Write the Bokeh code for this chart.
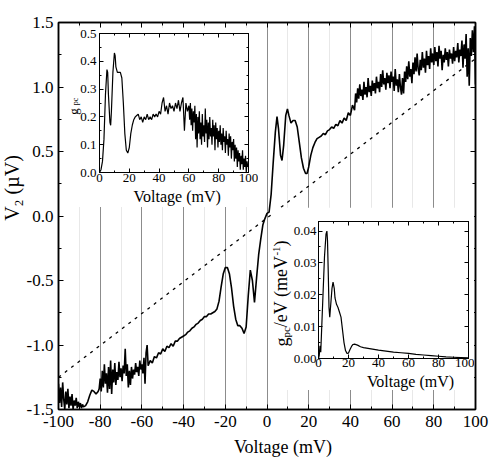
import math

from bokeh.plotting import figure
from bokeh.models import (Range1d, LinearAxis, SingleIntervalTicker,
                          NumeralTickFormatter, Label, Column)
from bokeh.embed import file_html
from bokeh.resources import INLINE

FONT = "Liberation Serif"

# ---------------------------------------------------------------- main sweep
sweep_mv = [
    -100, -99.5, -99, -98.5, -98, -97.5, -97, -96.5, -96, -95.5,
    -95, -94.5, -94, -93.5, -93, -92.5, -92, -91.5, -91, -90.5,
    -90, -89.5, -89, -88.5, -88,
    -87, -86, -85, -84, -83, -82, -81, -80.5,
    -80, -79.5, -79, -78.5, -78, -77.5, -77, -76.5, -76, -75.5,
    -75, -74.5, -74, -73.5, -73, -72.5, -72, -71.5, -71, -70.5,
    -70, -69.5, -69, -68.5, -68, -67.5, -67, -66.5, -66, -65.5,
    -65, -64.5, -64, -63.5, -63, -62.5, -62, -61.5, -61, -60.5,
    -60, -59.5, -59, -58.5, -58, -57.5, -57,
    -56, -55, -54, -53, -52, -51, -50, -49, -48, -47,
    -46, -45, -44, -43, -42, -41, -40, -39, -38, -37,
    -36, -35, -34, -33, -32, -31, -30, -29, -28, -27,
    -26, -25,
    -24, -23, -22, -21, -20, -19, -18, -17, -16, -15,
    -14, -13, -12, -11, -10, -9, -8, -7, -6, -5,
    -4, -3, -2, -1, 0, 1, 2, 3, 4, 4.8,
    5.5, 6.5, 7.2, 8, 9, 9.8, 10.5, 11.5, 12.5, 13.5,
    14.5, 15.5, 16.5, 17.5, 18.5, 19.2, 20,
    21, 22, 23, 24, 25, 26, 27, 28, 29, 30,
    31, 32, 33, 34, 35, 36, 37, 38, 39, 40,
    41, 42,
    42.5, 43, 43.5, 44, 44.5, 45, 45.5, 46, 46.5, 47,
    47.5, 48, 48.5, 49, 49.5, 50, 50.5, 51, 51.5, 52,
    52.5, 53, 53.5, 54, 54.5, 55, 55.5, 56, 56.5, 57,
    57.5, 58, 58.5, 59, 59.5, 60, 60.5, 61, 61.5, 62,
    62.5, 63, 63.5, 64, 64.5, 65, 65.5, 66, 66.5, 67,
    67.5, 68, 68.5, 69, 69.5, 70, 70.5, 71, 71.5, 72,
    72.5, 73, 73.5, 74, 74.5, 75, 75.5, 76, 76.5, 77,
    77.5, 78, 78.5, 79, 79.5, 80, 80.5, 81, 81.5, 82,
    82.5, 83, 83.5, 84, 84.5, 85, 85.5, 86, 86.5, 87,
    87.5, 88, 88.5, 89, 89.5, 90, 90.5, 91, 91.5, 92,
    92.5, 93, 93.5, 94, 94.5, 95, 95.5, 96, 96.5, 97,
    97.5, 98, 98.5, 99, 99.5, 100,
]
sweep_v2 = [
    -1.30, -1.45, -1.33, -1.48, -1.29, -1.42, -1.50, -1.36, -1.46, -1.34,
    -1.49, -1.40, -1.47, -1.38, -1.50, -1.43, -1.47, -1.41, -1.49, -1.44,
    -1.48, -1.45, -1.49, -1.46, -1.48,
    -1.47, -1.44, -1.39, -1.35, -1.36, -1.38, -1.36, -1.34,
    -1.26, -1.36, -1.20, -1.33, -1.15, -1.30, -1.22, -1.37, -1.17, -1.34,
    -1.12, -1.38, -1.19, -1.29, -1.14, -1.31, -1.21, -1.27, -1.13, -1.25,
    -1.18, -1.28, -1.16, -1.22, -1.03, -1.24, -1.15, -1.33, -1.20, -1.31,
    -1.17, -1.26, -1.19, -1.23, -1.14, -1.21, -1.17, -1.24, -1.12, -1.19,
    -1.15, -1.22, -1.10, -1.30, -1.06, -1.00, -1.16,
    -1.12, -1.14, -1.09, -1.10, -1.06, -1.07, -1.03, -1.05, -1.01, -1.02,
    -0.99, -1.01, -0.97, -0.97, -0.95, -0.94, -0.93, -0.92, -0.90, -0.89,
    -0.87, -0.86, -0.84, -0.83, -0.81, -0.80, -0.78, -0.78, -0.76, -0.76,
    -0.75, -0.74,
    -0.72, -0.66, -0.55, -0.45, -0.40, -0.40, -0.45, -0.56, -0.70, -0.80,
    -0.85, -0.85, -0.87, -0.91, -0.86, -0.62, -0.42, -0.50, -0.67, -0.48,
    -0.30, -0.18, -0.07, -0.02, 0.02, 0.03, 0.17, 0.42, 0.65, 0.77,
    0.68, 0.47, 0.43, 0.55, 0.78, 0.83, 0.78, 0.72, 0.74, 0.74,
    0.69, 0.57, 0.45, 0.37, 0.33, 0.33, 0.38,
    0.47, 0.53, 0.57, 0.60, 0.61, 0.62, 0.64, 0.63, 0.66, 0.67,
    0.69, 0.68, 0.71, 0.70, 0.74, 0.72, 0.76, 0.74, 0.80, 0.78,
    0.86, 0.82,
    0.95, 0.88, 0.99, 0.91, 1.02, 0.93, 0.98, 0.90, 1.04, 0.94,
    1.00, 0.92, 1.07, 0.96, 1.01, 0.93, 1.05, 0.97, 1.03, 0.95,
    1.08, 0.99, 1.04, 0.96, 1.10, 1.00, 1.13, 1.02, 1.07, 0.98,
    1.11, 1.03, 1.09, 0.99, 1.12, 1.04, 1.08, 0.97, 1.14, 1.01,
    1.06, 0.96, 1.10, 1.00, 0.94, 1.07, 0.95, 1.12, 1.04, 1.16,
    1.06, 1.20, 1.08, 1.14, 1.03, 1.19, 1.10, 1.23, 1.12, 1.26,
    1.14, 1.09, 1.21, 1.13, 1.27, 1.15, 1.22, 1.11, 1.28, 1.17,
    1.24, 1.14, 1.30, 1.19, 1.26, 1.17, 1.31, 1.20, 1.27, 1.16,
    1.32, 1.22, 1.28, 1.13, 1.25, 1.19, 1.30, 1.21, 1.27, 1.16,
    1.29, 1.22, 1.26, 1.18, 1.31, 1.20, 1.28, 1.23, 1.34, 1.19,
    1.29, 1.24, 1.36, 1.15, 1.33, 1.22, 1.41, 1.08, 1.30, 1.01,
    1.38, 1.24, 1.44, 1.27, 1.47, 1.02,
]

# straight reference line (dotted)
ohmic_mv = [-100, 100]
ohmic_v2 = [-1.25, 1.22]

# ------------------------------------------------ inset: g_pc vs voltage
gpc_mv = [
    0, 1, 2, 3, 4, 5, 5.5, 6, 7, 7.5,
    8, 9, 10, 10.5, 11, 12, 13, 14, 15, 16,
    17, 18, 19, 20, 21, 22, 23, 24, 25, 26,
    27, 28, 29, 30, 31, 32, 33, 34, 35, 36,
    37, 38, 39, 40, 41, 42, 43, 44, 45, 46,
    47, 48, 49, 50, 51, 52, 53, 54, 55, 56,
    57, 58, 59, 60,
    60.5, 61, 61.5, 62, 62.5, 63, 63.5, 64, 64.5, 65,
    65.5, 66, 66.5, 67, 67.5, 68, 68.5, 69, 69.5, 70,
    70.5, 71, 71.5, 72, 72.5, 73, 73.5, 74, 74.5, 75,
    75.5, 76, 76.5, 77, 77.5, 78, 78.5, 79, 79.5, 80,
    80.5, 81, 81.5, 82, 82.5, 83, 83.5, 84, 84.5, 85,
    85.5, 86, 86.5, 87, 87.5, 88, 88.5, 89, 89.5, 90,
    90.5, 91, 91.5, 92, 92.5, 93, 93.5, 94, 94.5, 95,
    95.5, 96, 96.5, 97, 97.5, 98, 98.5, 99, 99.5, 100,
]
gpc = [
    0.00, 0.01, 0.04, 0.12, 0.28, 0.37, 0.36, 0.28, 0.18, 0.17,
    0.22, 0.36, 0.43, 0.42, 0.38, 0.36, 0.36, 0.36, 0.34, 0.25,
    0.14, 0.08, 0.07, 0.09, 0.14, 0.17, 0.19, 0.20, 0.205, 0.21,
    0.19, 0.20, 0.18, 0.20, 0.19, 0.21, 0.19, 0.20, 0.19, 0.21,
    0.20, 0.21, 0.20, 0.22, 0.21, 0.25, 0.27, 0.22, 0.24, 0.21,
    0.25, 0.23, 0.24, 0.22, 0.25, 0.23, 0.26, 0.22, 0.25, 0.27,
    0.15, 0.25, 0.22, 0.24,
    0.19, 0.25, 0.17, 0.23, 0.15, 0.22, 0.18, 0.24, 0.12, 0.21,
    0.09, 0.20, 0.14, 0.22, 0.12, 0.18, 0.10, 0.21, 0.13, 0.17,
    0.11, 0.23, 0.14, 0.19, 0.09, 0.18, 0.12, 0.20, 0.13, 0.16,
    0.10, 0.19, 0.13, 0.17, 0.08, 0.18, 0.12, 0.16, 0.09, 0.15,
    0.11, 0.17, 0.10, 0.14, 0.08, 0.16, 0.11, 0.13, 0.07, 0.15,
    0.10, 0.12, 0.06, 0.14, 0.09, 0.13, 0.05, 0.11, 0.08, 0.12,
    0.04, 0.10, 0.05, 0.09, 0.02, 0.08, 0.04, 0.07, 0.01, 0.06,
    0.03, 0.08, 0.01, 0.05, 0.02, 0.06, 0.00, 0.04, 0.02, 0.03,
]

# ------------------------------------------- inset: g_pc/eV vs voltage
spec_mv = [
    0, 0.5, 1, 1.5, 2, 3, 4, 5, 5.6, 6,
    6.5, 7, 7.5, 8, 9, 9.7, 10.5, 11, 12, 13,
    14, 15, 16, 17, 18, 19, 20, 21, 22, 23,
    24, 26, 28, 30, 35, 40, 45, 50, 55, 60,
    65, 70, 75, 80, 85, 90, 95, 100,
]
spec = [
    0.0, 0.001, 0.004, 0.002, 0.008, 0.020, 0.032, 0.039, 0.040, 0.037,
    0.027, 0.016, 0.013, 0.016, 0.022, 0.024, 0.022, 0.019, 0.017, 0.016,
    0.0145, 0.013, 0.009, 0.005, 0.0025, 0.0016, 0.0017, 0.0028, 0.0038, 0.0044,
    0.0045, 0.0042, 0.0037, 0.0034, 0.0030, 0.0026, 0.0023, 0.0020, 0.0018, 0.0016,
    0.0013, 0.0011, 0.0009, 0.0007, 0.0005, 0.0004, 0.0003, 0.0002,
]

# axis titles: (text, x, y, font size, rotated) in page pixels
titles = [
    ("Voltage (mV)", 282.5, 446.5, "18px", False),
    ("V\u2082 (\u00b5V)", 11.0, 187.5, "20px", True),
    ("Voltage (mV)", 176.7, 196.0, "16px", False),
    ("g", 72.5, 111.0, "13px", True),
    ("pc", 75.0, 101.0, "8px", True),
    ("Voltage (mV)", 410.0, 381.0, "16px", False),
    ("g", 281.0, 341.5, "18px", True),
    ("pc", 285.5, 331.8, "11px", True),
    ("/eV (meV", 280.5, 290.9, "18px", True),
    ("-1", 275.5, 250.5, "11px", True),
    (")", 280.5, 242.9, "18px", True),
]


def style_axis(ax, size, tick_in, minor_in, standoff, width, show=True):
    ax.major_tick_in = tick_in
    ax.major_tick_out = 0
    ax.minor_tick_in = minor_in
    ax.minor_tick_out = 0
    ax.axis_line_color = "black"
    ax.axis_line_width = width
    ax.major_tick_line_color = "black"
    ax.minor_tick_line_color = "black"
    ax.major_label_standoff = standoff
    ax.major_label_text_font = FONT
    if show:
        ax.major_label_text_font_size = size
        ax.major_label_text_color = "black"
    else:
        ax.major_label_text_font_size = "0px"
        ax.major_label_text_color = None
        ax.major_label_standoff = 0


def boxed_axes(fig, xt, yt, xfmt, yfmt, size, tick_in, minor_in, xs, ys, width):
    fig.xaxis.ticker = xt
    fig.yaxis.ticker = yt
    fig.xaxis.formatter = NumeralTickFormatter(format=xfmt)
    fig.yaxis.formatter = NumeralTickFormatter(format=yfmt)
    style_axis(fig.xaxis[0], size, tick_in, minor_in, xs, width)
    style_axis(fig.yaxis[0], size, tick_in, minor_in, ys, width)
    top = LinearAxis(ticker=xt)
    right = LinearAxis(ticker=yt)
    style_axis(top, size, tick_in, minor_in, 0, width, show=False)
    style_axis(right, size, tick_in, minor_in, 0, width, show=False)
    fig.add_layout(top, "above")
    fig.add_layout(right, "right")
    fig.outline_line_color = "black"
    fig.outline_line_width = width


# ---------------------------------------------------------------- main plot
p = figure(width=495, height=459, output_backend="svg", toolbar_location=None,
           x_range=Range1d(-100, 100), y_range=Range1d(-1.5, 1.5),
           min_border_left=58, min_border_right=20,
           min_border_top=22, min_border_bottom=50, frame_align=False)
p.background_fill_color = "white"
p.border_fill_color = "white"
boxed_axes(p, SingleIntervalTicker(interval=20, num_minor_ticks=2),
           SingleIntervalTicker(interval=0.5, num_minor_ticks=2),
           "0", "0.0", "17px", 5, 3, 6, 5, 1.5)
p.xgrid.grid_line_color = "#8c8c8c"
p.xgrid.grid_line_width = 1
p.xgrid.minor_grid_line_color = "#e8e8e8"
p.ygrid.visible = False

p.line(ohmic_mv, ohmic_v2, line_color="black", line_width=1.3, line_dash="3 5")
p.line(sweep_mv, sweep_v2, line_color="black", line_width=1.6)

# ------------------------------------------------------- g_pc inset (left)
ins1 = figure(width=194, height=180, output_backend="svg", toolbar_location=None,
              x_range=Range1d(0, 100), y_range=Range1d(0, 0.5),
              min_border_left=35, min_border_right=10,
              min_border_top=6, min_border_bottom=35, frame_align=False)
ins1.background_fill_color = "white"
ins1.border_fill_color = "white"
boxed_axes(ins1, SingleIntervalTicker(interval=20, num_minor_ticks=2),
           SingleIntervalTicker(interval=0.1, num_minor_ticks=2),
           "0", "0.0", "13px", 4, 2, 1, 3, 1)
ins1.grid.visible = False
ins1.line(gpc_mv, gpc, line_color="black", line_width=1.2)
ins1.styles = {"position": "absolute", "left": "64px", "top": "27px"}

# ---------------------------------------------------- g_pc/eV inset (right)
ins2 = figure(width=202, height=183, output_backend="svg", toolbar_location=None,
              x_range=Range1d(0, 100), y_range=Range1d(0, 0.043),
              min_border_left=46, min_border_right=6,
              min_border_top=14, min_border_bottom=32, frame_align=False)
ins2.background_fill_color = "white"
ins2.border_fill_color = "white"
boxed_axes(ins2, SingleIntervalTicker(interval=20, num_minor_ticks=2),
           SingleIntervalTicker(interval=0.01, num_minor_ticks=2),
           "0", "0.00", "13px", 4, 2, 0, 2, 1)
ins2.grid.visible = False
ins2.line(spec_mv, spec, line_color="black", line_width=1.2)
ins2.styles = {"position": "absolute", "left": "272px", "top": "207px"}

# ------------------------------------- transparent sheet for axis titles
sheet = figure(width=495, height=459, output_backend="svg", toolbar_location=None,
               x_range=Range1d(0, 495), y_range=Range1d(459, 0),
               x_axis_type=None, y_axis_type=None, min_border=0,
               frame_align=False)
sheet.grid.visible = False
sheet.outline_line_color = None
sheet.background_fill_alpha = 0
sheet.border_fill_alpha = 0
for text, tx, ty, size, rotated in titles:
    sheet.add_layout(Label(x=tx, y=ty, text=text, text_font=FONT,
                           text_font_size=size, text_color="black",
                           text_align="center", text_baseline="middle",
                           angle=math.pi / 2 if rotated else 0.0))
sheet.styles = {"position": "absolute", "left": "0px", "top": "0px"}

layout = Column(children=[p, ins1, ins2, sheet], width=495, height=459,
                styles={"position": "relative"})

open("out.html", "w").write(file_html(layout, INLINE))
